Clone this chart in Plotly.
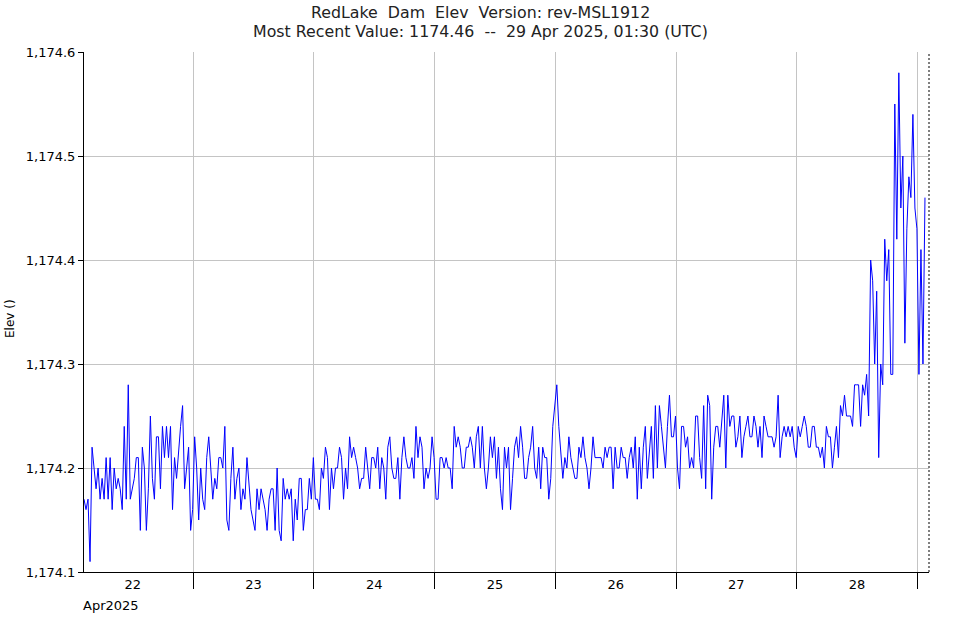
import plotly.graph_objects as go
import pandas as pd

# ---- data ----
start_time = "2025-04-22 02:18"
step_minutes = 24

elev_part1 = [1174.17, 1174.16, 1174.17, 1174.11, 1174.22, 1174.20, 1174.18, 1174.20, 1174.17, 1174.19,
              1174.17, 1174.21, 1174.17, 1174.21, 1174.16, 1174.20, 1174.18, 1174.19, 1174.18, 1174.16,
              1174.24, 1174.17, 1174.28, 1174.17, 1174.18, 1174.19, 1174.21, 1174.21, 1174.14, 1174.22,
              1174.20, 1174.14, 1174.18, 1174.25, 1174.19, 1174.17, 1174.23, 1174.23, 1174.18, 1174.24,
              1174.21, 1174.24, 1174.21, 1174.24, 1174.16, 1174.21, 1174.19, 1174.22]
elev_part2 = [1174.24, 1174.26, 1174.18, 1174.20, 1174.22, 1174.14, 1174.16, 1174.23, 1174.20, 1174.15,
              1174.20, 1174.17, 1174.16, 1174.21, 1174.23, 1174.20, 1174.17, 1174.19, 1174.18, 1174.21,
              1174.21, 1174.20, 1174.24, 1174.15, 1174.14, 1174.19, 1174.22, 1174.17, 1174.19, 1174.20,
              1174.16, 1174.18, 1174.17, 1174.21, 1174.18, 1174.16, 1174.15, 1174.14, 1174.18, 1174.16,
              1174.18, 1174.17, 1174.16, 1174.14, 1174.17, 1174.18, 1174.18, 1174.14]
elev_part3 = [1174.20, 1174.14, 1174.13, 1174.19, 1174.17, 1174.18, 1174.17, 1174.18, 1174.13, 1174.17,
              1174.15, 1174.19, 1174.19, 1174.14, 1174.16, 1174.16, 1174.19, 1174.17, 1174.21, 1174.17,
              1174.17, 1174.16, 1174.20, 1174.19, 1174.22, 1174.21, 1174.16, 1174.20, 1174.18, 1174.20,
              1174.20, 1174.22, 1174.21, 1174.17, 1174.20, 1174.18, 1174.23, 1174.21, 1174.22, 1174.21,
              1174.20, 1174.18, 1174.19, 1174.19, 1174.22, 1174.20, 1174.18, 1174.21]
elev_part4 = [1174.21, 1174.20, 1174.22, 1174.18, 1174.21, 1174.20, 1174.17, 1174.22, 1174.23, 1174.20,
              1174.19, 1174.19, 1174.21, 1174.17, 1174.21, 1174.23, 1174.21, 1174.20, 1174.20, 1174.21,
              1174.19, 1174.24, 1174.21, 1174.23, 1174.22, 1174.18, 1174.20, 1174.19, 1174.20, 1174.23,
              1174.21, 1174.17, 1174.17, 1174.21, 1174.21, 1174.20, 1174.21, 1174.20, 1174.20, 1174.18,
              1174.24, 1174.22, 1174.23, 1174.22, 1174.20, 1174.20, 1174.22, 1174.22]
elev_part5 = [1174.23, 1174.22, 1174.20, 1174.23, 1174.24, 1174.20, 1174.24, 1174.20, 1174.18, 1174.20,
              1174.23, 1174.21, 1174.23, 1174.19, 1174.22, 1174.18, 1174.16, 1174.22, 1174.20, 1174.22,
              1174.16, 1174.19, 1174.22, 1174.23, 1174.21, 1174.24, 1174.22, 1174.19, 1174.19, 1174.21,
              1174.22, 1174.24, 1174.20, 1174.19, 1174.22, 1174.18, 1174.22, 1174.21, 1174.21, 1174.17,
              1174.19, 1174.24, 1174.26, 1174.28, 1174.24, 1174.21, 1174.19, 1174.21]
elev_part6 = [1174.20, 1174.23, 1174.21, 1174.20, 1174.19, 1174.19, 1174.22, 1174.21, 1174.23, 1174.21,
              1174.20, 1174.18, 1174.20, 1174.23, 1174.21, 1174.21, 1174.21, 1174.21, 1174.20, 1174.22,
              1174.21, 1174.22, 1174.22, 1174.18, 1174.22, 1174.20, 1174.20, 1174.22, 1174.21, 1174.21,
              1174.19, 1174.21, 1174.22, 1174.20, 1174.23, 1174.17, 1174.22, 1174.18, 1174.22, 1174.24,
              1174.19, 1174.22, 1174.24, 1174.19, 1174.26, 1174.20, 1174.26, 1174.24]
elev_part7 = [1174.22, 1174.20, 1174.24, 1174.27, 1174.23, 1174.23, 1174.25, 1174.20, 1174.18, 1174.24,
              1174.24, 1174.22, 1174.23, 1174.20, 1174.21, 1174.20, 1174.25, 1174.25, 1174.21, 1174.19,
              1174.26, 1174.18, 1174.27, 1174.26, 1174.17, 1174.22, 1174.24, 1174.24, 1174.22, 1174.25,
              1174.27, 1174.20, 1174.27, 1174.24, 1174.25, 1174.25, 1174.22, 1174.23, 1174.25, 1174.21,
              1174.23, 1174.24, 1174.25, 1174.23, 1174.23, 1174.25, 1174.24, 1174.22]
elev_part8 = [1174.24, 1174.21, 1174.25, 1174.24, 1174.23, 1174.23, 1174.23, 1174.22, 1174.23, 1174.27,
              1174.21, 1174.23, 1174.24, 1174.23, 1174.24, 1174.23, 1174.24, 1174.22, 1174.21, 1174.24,
              1174.23, 1174.24, 1174.25, 1174.24, 1174.22, 1174.22, 1174.24, 1174.24, 1174.22, 1174.22,
              1174.21, 1174.22, 1174.20, 1174.24, 1174.23, 1174.23, 1174.20, 1174.22, 1174.24, 1174.21,
              1174.26, 1174.25, 1174.27, 1174.25, 1174.25, 1174.25, 1174.24, 1174.28]
elev_part9 = [1174.28, 1174.28, 1174.24, 1174.28, 1174.27, 1174.29, 1174.25, 1174.40, 1174.38, 1174.30,
              1174.37, 1174.21, 1174.30, 1174.28, 1174.42, 1174.38, 1174.41, 1174.29, 1174.29, 1174.55,
              1174.42, 1174.58, 1174.45, 1174.50, 1174.32, 1174.43, 1174.48, 1174.46, 1174.54, 1174.45,
              1174.43, 1174.29, 1174.41, 1174.30, 1174.46]

day_labels = ["22", "23", "24", "25", "26", "27", "28"]
day_label_dates = ["2025-04-22 12:00", "2025-04-23 12:00", "2025-04-24 12:00", "2025-04-25 12:00",
                   "2025-04-26 12:00", "2025-04-27 12:00", "2025-04-28 12:00"]
day_boundaries = ["2025-04-23", "2025-04-24", "2025-04-25", "2025-04-26",
                  "2025-04-27", "2025-04-28", "2025-04-29"]
x_range = ["2025-04-22 02:18", "2025-04-29 02:18"]
y_ticks = [1174.1, 1174.2, 1174.3, 1174.4, 1174.5, 1174.6]

title_line1 = "RedLake\u00a0 Dam\u00a0 Elev\u00a0 Version: rev-MSL1912"
title_line2 = "Most Recent Value: 1174.46\u00a0 --\u00a0 29 Apr 2025, 01:30 (UTC)"

values = (elev_part1 + elev_part2 + elev_part3 + elev_part4 + elev_part5 +
          elev_part6 + elev_part7 + elev_part8 + elev_part9)
times = pd.date_range(start_time, periods=len(values), freq=f"{step_minutes}min")

FONT = "DejaVu Sans"
GRID = "#c4c4c4"

fig = go.Figure(go.Scatter(x=times, y=values, mode="lines",
                           line=dict(color="#0000ff", width=1), hoverinfo="skip"))

fig.update_layout(
    width=961, height=620,
    margin=dict(l=84, r=32, t=52, b=48, autoexpand=False),
    paper_bgcolor="white", plot_bgcolor="white",
    showlegend=False,
    font=dict(family=FONT, size=13, color="black"),
    xaxis=dict(
        type="date", range=x_range, automargin=False,
        tickmode="array", tickvals=day_label_dates, ticktext=day_labels,
        ticks="", showgrid=False, zeroline=False,
        showline=True, linecolor="black", linewidth=1,
        tickfont=dict(family=FONT, size=13, color="black"),
        minor=dict(tickmode="array", tickvals=day_boundaries, ticks="outside",
                   ticklen=16, tickcolor="black", tickwidth=1,
                   showgrid=True, gridcolor=GRID, gridwidth=1),
    ),
    yaxis=dict(
        range=[1174.1, 1174.6], tickmode="array", tickvals=y_ticks, automargin=False,
        tickformat=",.1f", ticks="outside", ticklen=5, tickcolor="black",
        showgrid=True, gridcolor=GRID, gridwidth=1, zeroline=False,
        showline=True, linecolor="black", linewidth=1,
        tickfont=dict(family=FONT, size=13, color="black"),
    ),
    shapes=[dict(type="line", xref="paper", yref="paper", x0=1, x1=1, y0=0, y1=1,
                 line=dict(color="black", width=1, dash="2px,2px"))],
    annotations=[
        dict(text="Apr2025", xref="paper", yref="paper", x=0, y=0,
             xanchor="left", yanchor="top", yshift=-24, xshift=-3, showarrow=False,
             font=dict(family=FONT, size=13, color="black")),
        dict(text=title_line1, xref="paper", yref="paper", x=0.5, y=1,
             xanchor="center", yanchor="middle", yshift=40, xshift=-26, showarrow=False,
             font=dict(family=FONT, size=15.8, color="#222222")),
        dict(text=title_line2, xref="paper", yref="paper", x=0.5, y=1,
             xanchor="center", yanchor="middle", yshift=21, xshift=-26, showarrow=False,
             font=dict(family=FONT, size=15.8, color="#222222")),
        dict(text="Elev ()", xref="paper", yref="paper", x=0, y=0.5,
             xanchor="center", yanchor="middle", xshift=-74, yshift=-7, textangle=-90,
             showarrow=False, font=dict(family=FONT, size=12, color="black")),
    ],
)

fig.write_html("out.html")
